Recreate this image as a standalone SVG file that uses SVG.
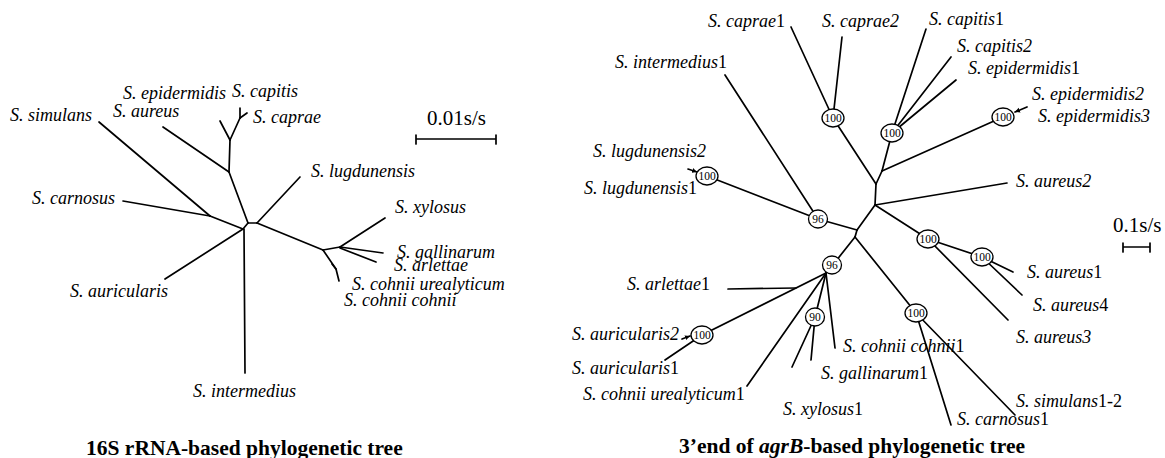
<svg xmlns="http://www.w3.org/2000/svg" width="1165" height="458" viewBox="0 0 1165 458">
<style>
.sp{font-family:"Liberation Serif","Times New Roman",serif;font-style:italic;font-size:18px;fill:#000}
.n{font-style:normal}
.sc{font-family:"Liberation Serif","Times New Roman",serif;font-size:21px;fill:#000}
.ttl{font-family:"Liberation Serif","Times New Roman",serif;font-weight:bold;font-size:21.5px;fill:#000}
.bl{font-family:"Liberation Serif","Times New Roman",serif;font-size:11.5px;fill:#000;text-anchor:middle}
.ln{stroke:#000;stroke-width:1.7;fill:none;stroke-linecap:round;stroke-linejoin:round}
.bs{fill:#fff;stroke:#000;stroke-width:1.3}
</style>
<defs>
<marker id="ah" markerWidth="6" markerHeight="6" refX="5" refY="3" orient="auto" markerUnits="userSpaceOnUse">
<path d="M0,0.5 L5,3 L0,5.5 Z" fill="#000"/>
</marker>
</defs>
<rect width="1165" height="458" fill="#fff"/>

<!-- LEFT TREE connectors -->
<g id="connectors-left" class="ln">
<path d="M99,122 L210,216"/>
<path d="M123,201 L210,216"/>
<path d="M210,216 L243,229"/>
<path d="M165,279 L243,229"/>
<path d="M244,229 L245,373"/>
<path d="M243,229 L248,223"/>
<path d="M248,223 L229,172"/>
<path d="M229,172 L163,127"/>
<path d="M229,172 L230,140"/>
<path d="M230,140 L220,121"/>
<path d="M230,140 L240,118"/>
<path d="M240,118 L240,108"/>
<path d="M240,118 L247,113"/>
<path d="M248,223 L257,223"/>
<path d="M257,223 L300,177"/>
<path d="M257,223 L323,250"/>
<path d="M323,250 L340,247"/>
<path d="M340,247 L385,218"/>
<path d="M340,247 L383,253"/>
<path d="M340,248 L376,262"/>
<path d="M323,250 L336,269 L339,281"/>
<path d="M336,269 L332,264"/>
</g>

<g id="l-epidermidis"><text class="sp" x="123" y="99">S. epidermidis</text></g>
<g id="l-capitis"><text class="sp" x="232" y="97">S. capitis</text></g>
<g id="l-aureus"><text class="sp" x="113" y="117">S. aureus</text></g>
<g id="l-caprae"><text class="sp" x="253" y="123">S. caprae</text></g>
<g id="l-simulans"><text class="sp" x="10" y="121">S. simulans</text></g>
<g id="l-carnosus"><text class="sp" x="32" y="204">S. carnosus</text></g>
<g id="l-lugdunensis"><text class="sp" x="311" y="177">S. lugdunensis</text></g>
<g id="l-xylosus"><text class="sp" x="395" y="213">S. xylosus</text></g>
<g id="l-gallinarum"><text class="sp" x="397" y="258">S. gallinarum</text></g>
<g id="l-arlettae"><text class="sp" x="394" y="271">S. arlettae</text></g>
<g id="l-cohnii-urealyticum"><text class="sp" x="352" y="290">S. cohnii urealyticum</text></g>
<g id="l-cohnii-cohnii"><text class="sp" x="344" y="306">S. cohnii cohnii</text></g>
<g id="l-auricularis"><text class="sp" x="70" y="297">S. auricularis</text></g>
<g id="l-intermedius"><text class="sp" x="193" y="397">S. intermedius</text></g>
<g id="l-scale">
<text class="sc" x="427" y="125">0.01s/s</text>
<path class="ln" d="M416,139 L496,139 M416,135 L416,144 M496,135 L496,144" stroke-width="1.4"/>
</g>
<g id="l-title"><text class="ttl" x="86" y="455">16S rRNA-based phylogenetic tree</text></g>

<!-- RIGHT TREE connectors -->
<g id="connectors-right" class="ln">
<path d="M791,27 L833,118"/>
<path d="M842,37 L833,118"/>
<path d="M833,118 L876,184"/>
<path d="M876,184 L882,171"/>
<path d="M882,171 L892,133"/>
<path d="M892,133 L926,29"/>
<path d="M892,133 L951,57"/>
<path d="M892,133 L956,80"/>
<path d="M882,171 L1003,117"/>
<path d="M1027,107 L1015,112" marker-end="url(#ah)"/>
<path d="M876,184 L875,205"/>
<path d="M875,205 L1007,183"/>
<path d="M875,205 L928,239"/>
<path d="M928,239 L982,257"/>
<path d="M982,257 L1013,272"/>
<path d="M982,257 L1022,295"/>
<path d="M928,239 L1008,320"/>
<path d="M875,205 L857,230"/>
<path d="M857,230 L818,219"/>
<path d="M818,219 L725,75"/>
<path d="M818,219 L707,176"/>
<path d="M688,169 L697,172" marker-end="url(#ah)"/>
<path d="M857,230 L855,237"/>
<path d="M855,237 L916,313"/>
<path d="M916,313 L951,425"/>
<path d="M916,313 L1015,415"/>
<path d="M855,237 L832,266"/>
<path d="M832,266 L826,273"/>
<path d="M826,273 L702,335"/>
<path d="M728,289 L796,288"/>
<path d="M702,335 L665,360"/>
<path d="M682,339 L690,336" marker-end="url(#ah)"/>
<path d="M826,273 L747,386"/>
<path d="M826,273 L815,317"/>
<path d="M815,317 L792,367"/>
<path d="M815,317 L811,360"/>
<path d="M826,273 L835,348"/>
</g>

<!-- bootstrap nodes -->
<g id="b-caprae"><ellipse class="bs" cx="833" cy="118" rx="11" ry="9"/><text class="bl" x="833" y="122">100</text></g>
<g id="b-capitis"><ellipse class="bs" cx="892" cy="133" rx="11" ry="9"/><text class="bl" x="892" y="137">100</text></g>
<g id="b-epidermidis"><ellipse class="bs" cx="1003" cy="117" rx="11" ry="9"/><text class="bl" x="1003" y="121">100</text></g>
<g id="b-aureus-a"><ellipse class="bs" cx="928" cy="239" rx="11" ry="9"/><text class="bl" x="928" y="243">100</text></g>
<g id="b-aureus-b"><ellipse class="bs" cx="982" cy="257" rx="11" ry="9"/><text class="bl" x="982" y="261">100</text></g>
<g id="b-96-upper"><ellipse class="bs" cx="818" cy="219" rx="9.5" ry="9"/><text class="bl" x="818" y="223">96</text></g>
<g id="b-lugdunensis"><ellipse class="bs" cx="707" cy="176" rx="11" ry="9"/><text class="bl" x="707" y="180">100</text></g>
<g id="b-simulans"><ellipse class="bs" cx="916" cy="313" rx="11" ry="9"/><text class="bl" x="916" y="317">100</text></g>
<g id="b-96-lower"><ellipse class="bs" cx="832" cy="265" rx="9.5" ry="9"/><text class="bl" x="832" y="269">96</text></g>
<g id="b-auricularis"><ellipse class="bs" cx="702" cy="335" rx="11" ry="9"/><text class="bl" x="702" y="339">100</text></g>
<g id="b-90"><ellipse class="bs" cx="815" cy="317" rx="9.5" ry="9"/><text class="bl" x="815" y="321">90</text></g>

<g id="r-caprae1"><text class="sp" x="708" y="27">S. caprae<tspan class="n">1</tspan></text></g>
<g id="r-caprae2"><text class="sp" x="822" y="27">S. caprae2</text></g>
<g id="r-capitis1"><text class="sp" x="929" y="25">S. capitis<tspan class="n">1</tspan></text></g>
<g id="r-capitis2"><text class="sp" x="957" y="52">S. capitis2</text></g>
<g id="r-epidermidis1"><text class="sp" x="968" y="74">S. epidermidis<tspan class="n">1</tspan></text></g>
<g id="r-intermedius1"><text class="sp" x="615" y="68">S. intermedius<tspan class="n">1</tspan></text></g>
<g id="r-epidermidis2"><text class="sp" x="1032" y="100">S. epidermidis2</text></g>
<g id="r-epidermidis3"><text class="sp" x="1038" y="122">S. epidermidis3</text></g>
<g id="r-lugdunensis2"><text class="sp" x="593" y="157">S. lugdunensis2</text></g>
<g id="r-lugdunensis1"><text class="sp" x="584" y="194">S. lugdunensis<tspan class="n">1</tspan></text></g>
<g id="r-aureus2"><text class="sp" x="1016" y="187">S. aureus2</text></g>
<g id="r-aureus1"><text class="sp" x="1027" y="278">S. aureus<tspan class="n">1</tspan></text></g>
<g id="r-arlettae1"><text class="sp" x="627" y="290">S. arlettae<tspan class="n">1</tspan></text></g>
<g id="r-aureus4"><text class="sp" x="1033" y="311">S. aureus<tspan class="n">4</tspan></text></g>
<g id="r-auricularis2"><text class="sp" x="572" y="340">S. auricularis2</text></g>
<g id="r-aureus3"><text class="sp" x="1016" y="343">S. aureus3</text></g>
<g id="r-cohnii-cohnii1"><text class="sp" x="843" y="352">S. cohnii cohnii<tspan class="n">1</tspan></text></g>
<g id="r-auricularis1"><text class="sp" x="572" y="374">S. auricularis<tspan class="n">1</tspan></text></g>
<g id="r-gallinarum1"><text class="sp" x="821" y="379">S. gallinarum<tspan class="n">1</tspan></text></g>
<g id="r-cohnii-urealyticum1"><text class="sp" x="583" y="400">S. cohnii urealyticum<tspan class="n">1</tspan></text></g>
<g id="r-simulans1-2"><text class="sp" x="1016" y="407">S. simulans<tspan class="n">1-2</tspan></text></g>
<g id="r-xylosus1"><text class="sp" x="783" y="415">S. xylosus<tspan class="n">1</tspan></text></g>
<g id="r-carnosus1"><text class="sp" x="957" y="425">S. carnosus<tspan class="n">1</tspan></text></g>
<g id="r-scale">
<text class="sc" x="1113" y="232">0.1s/s</text>
<path class="ln" d="M1123,247 L1150,247 M1123,243 L1123,252 M1150,243 L1150,252" stroke-width="1.4"/>
</g>
<g id="r-title"><text class="ttl" x="679" y="453">3’end of <tspan font-style="italic">agrB</tspan>-based phylogenetic tree</text></g>
</svg>
